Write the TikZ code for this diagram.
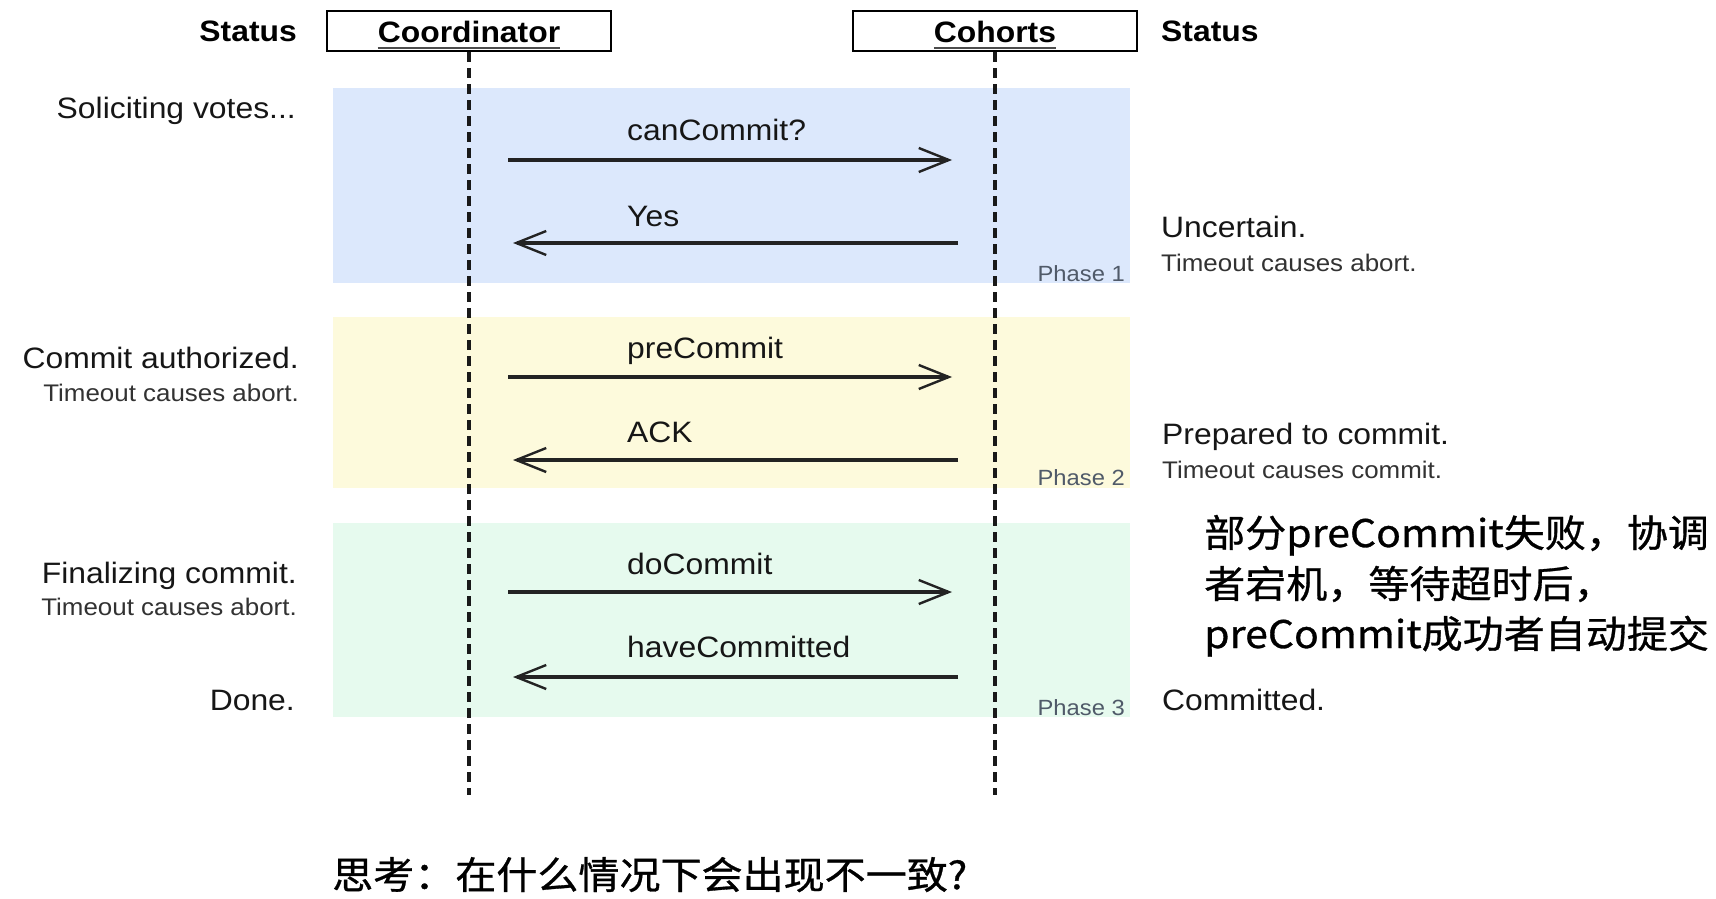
\documentclass[tikz,border=0pt]{standalone}
\usepackage{fontspec}
\setmainfont[FakeStretch=1.08]{Liberation Sans}
\newfontfamily\cjk[FakeStretch=1.08,FakeBold=0.8]{Noto Sans CJK SC}
\usetikzlibrary{arrows.meta}
\definecolor{bandblue}{RGB}{220,232,252}
\definecolor{bandyellow}{RGB}{253,250,220}
\definecolor{bandgreen}{RGB}{230,250,238}
\definecolor{txt}{RGB}{22,22,22}
\definecolor{txtsmall}{RGB}{50,50,50}
\definecolor{phasecol}{RGB}{80,90,105}
\definecolor{arrowcol}{RGB}{35,35,35}
\begin{document}
\begin{tikzpicture}[x=1pt,y=-1pt,
  maintext/.style={inner sep=0pt, font=\fontsize{29.5}{35}\selectfont, text=txt},
  smalltext/.style={inner sep=0pt, font=\fontsize{24}{28}\selectfont, text=txtsmall},
  hdrtext/.style={inner sep=0pt, font=\bfseries\fontsize{29.5}{35}\selectfont, text=black},
  phasetext/.style={inner sep=0pt, font=\fontsize{22}{26}\selectfont, text=phasecol},
  cjktext/.style={inner sep=0pt, font=\cjk\fontsize{38}{50}\selectfont, text=black},
  msg/.style={draw=arrowcol, line width=3.2pt, -{Straight Barb[length=30pt,width=24pt,line width=2.4pt]}},
  lifeline/.style={draw=black!90, line width=3.4pt, dash pattern=on 10pt off 6pt},
  actorbox/.style={draw=black, line width=2.6pt, inner sep=0pt, minimum height=40pt},
  uline/.style={draw=black!70, line width=1.6pt}
]
\path[fill=white, use as bounding box] (0,0) rectangle (1716,899);

% phase bands
\fill[bandblue]   (333,88)  rectangle (1130,283);
\fill[bandyellow] (333,317) rectangle (1130,488);
\fill[bandgreen]  (333,523) rectangle (1130,717);

% actors
\node[actorbox, minimum width=284pt] (coord) at (469,31) {};
\node[actorbox, minimum width=284pt] (cohort) at (995,31) {};
\node[hdrtext, anchor=base] (coordtxt) at (469,43) {Coordinator};
\node[hdrtext, anchor=base] (cohorttxt) at (995,43) {Cohorts};
\draw[uline] ([yshift=-5pt]coordtxt.base west) -- ([yshift=-5pt]coordtxt.base east);
\draw[uline] ([yshift=-5pt]cohorttxt.base west) -- ([yshift=-5pt]cohorttxt.base east);

% lifelines
\coordinate (coordend) at (469,795);
\coordinate (cohortend) at (995,795);
\draw[lifeline] (coord.south) -- (coordend);
\draw[lifeline] (cohort.south) -- (cohortend);

% status headers
\node[hdrtext, anchor=base east] (statl) at (297,42) {Status};
\node[hdrtext, anchor=base west] (statr) at (1161,42) {Status};

% messages
\coordinate (m1s) at (508,160); \coordinate (m1e) at (952,160);
\coordinate (m2s) at (958,243); \coordinate (m2e) at (513,243);
\coordinate (m3s) at (508,377); \coordinate (m3e) at (952,377);
\coordinate (m4s) at (958,460); \coordinate (m4e) at (513,460);
\coordinate (m5s) at (508,592); \coordinate (m5e) at (952,592);
\coordinate (m6s) at (958,677); \coordinate (m6e) at (513,677);
\draw[msg] (m1s) -- (m1e);
\draw[msg] (m2s) -- (m2e);
\draw[msg] (m3s) -- (m3e);
\draw[msg] (m4s) -- (m4e);
\draw[msg] (m5s) -- (m5e);
\draw[msg] (m6s) -- (m6e);

\node[maintext, anchor=base west] (l1) at (627,140) {canCommit?};
\node[maintext, anchor=base west] (l2) at (627,226) {Yes};
\node[maintext, anchor=base west] (l3) at (627,358) {preCommit};
\node[maintext, anchor=base west] (l4) at (627,442) {ACK};
\node[maintext, anchor=base west] (l5) at (627,574) {doCommit};
\node[maintext, anchor=base west] (l6) at (627,657) {haveCommitted};

% phase labels
\node[phasetext, anchor=base east] (p1) at (1125,281) {Phase 1};
\node[phasetext, anchor=base east] (p2) at (1125,485) {Phase 2};
\node[phasetext, anchor=base east] (p3) at (1125,715) {Phase 3};

% left status
\node[maintext, anchor=base east] (s1) at (296,118) {Soliciting votes...};
\node[maintext, anchor=base east] (s2) at (299,368) {Commit authorized.};
\node[smalltext, anchor=base east] (s2b) at (299,401) {Timeout causes abort.};
\node[maintext, anchor=base east] (s3) at (297,583) {Finalizing commit.};
\node[smalltext, anchor=base east] (s3b) at (297,615) {Timeout causes abort.};
\node[maintext, anchor=base east] (s4) at (295,710) {Done.};

% right status
\node[maintext, anchor=base west] (r1) at (1161,237) {Uncertain.};
\node[smalltext, anchor=base west] (r1b) at (1161,271) {Timeout causes abort.};
\node[maintext, anchor=base west] (r2) at (1162,444) {Prepared to commit.};
\node[smalltext, anchor=base west] (r2b) at (1162,478) {Timeout causes commit.};
\node[maintext, anchor=base west] (r3) at (1162,710) {Committed.};

% annotations
\node[cjktext, anchor=base west] (c1) at (1204,547) {部分preCommit失败，协调};
\node[cjktext, anchor=base west] (c2) at (1204,598) {者宕机，等待超时后，};
\node[cjktext, anchor=base west] (c3) at (1204,648) {preCommit成功者自动提交};
\node[cjktext, anchor=base west] (q) at (332,889) {思考：在什么情况下会出现不一致?};
\end{tikzpicture}
\end{document}
